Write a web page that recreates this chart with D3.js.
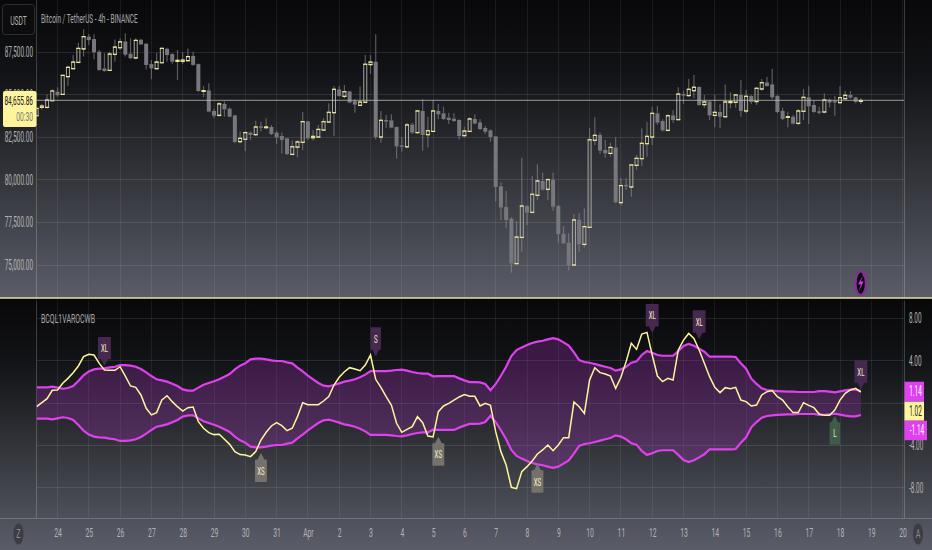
<!DOCTYPE html>
<html><head><meta charset="utf-8">
<style>html,body{margin:0;padding:0;background:#000}svg{display:block}text{font-family:Roboto,"Liberation Sans",sans-serif}</style>
<script src="https://cdn.jsdelivr.net/npm/d3@7/dist/d3.min.js"></script></head><body><svg id="c" width="932" height="550"></svg>
<script>
const title = "Bitcoin / TetherUS - 4h - BINANCE";
const paneTitle = "BCQL1VAROCWB";
const priceTicks = [75000, 77500, 80000, 82500, 85000, 87500];
const oscTicks = [-8, -4, 4, 8];
const oscGrid = [-8, -4, 0, 4, 8];
const dayLabels = ["24","25","26","27","28","29","30","31","Apr","2","3","4","5","6","7","8","9","10","11","12","13","14","15","16","17","18","19","20"];
const lastPrice = 84655.86;
const opens = [83760,84250,84250,84640,85170,85010,86050,86520,86890,87680,88400,88260,87520,86540,86420,87360,87750,88120,87400,87150,88220,87990,86790,86520,86870,87690,87380,86950,86950,86990,87270,86790,85190,85250,84040,83780,84450,84170,83780,82240,82380,82770,82650,83140,83060,83100,82770,82570,82430,81490,81920,82200,83430,82470,82510,82920,83390,83940,85310,84900,85190,84620,84370,84550,86760,86930,82510,83510,83490,83100,82020,81940,83240,82770,84040,82650,82840,84040,83900,83650,83590,83510,82590,82840,83570,83370,83040,82900,82550,79620,78400,77720,75080,76620,78460,78090,79090,79930,79440,80010,78460,76840,76310,75000,77660,76210,77210,82320,82630,81750,81550,81900,78660,79700,79580,80850,81240,82120,82510,83900,83450,82900,83780,83530,85030,84940,85230,85450,84410,84600,83780,83980,83700,84530,84550,84980,84040,84920,84590,85330,85720,85600,84920,84040,83670,83700,83310,84020,84840,84390,84020,83980,84700,84620,84530,84760,84980,84840,84600];
const highs = [84200,84450,85010,85310,85430,86170,86700,87320,88050,88830,88560,88540,87620,87420,87520,88240,88300,88600,88300,88300,88280,88010,87030,87460,87770,87750,87420,87620,87480,87710,87520,86830,85500,85660,84190,84570,84590,84250,83820,82830,82830,82830,83470,83410,83610,83220,82880,82770,82470,82300,82340,83980,83470,82920,83220,83610,84490,85500,85500,85560,85230,84720,85470,87320,87320,88540,84040,83800,83840,83120,82490,83350,83350,84100,84720,83700,84680,84450,84290,83940,83900,83550,83120,83670,83840,83550,83160,82960,82570,79850,79340,77800,77580,81300,78500,80220,80910,80420,80090,80420,78500,77290,76860,77990,78030,78320,83020,83650,82770,82340,82180,82490,80090,80090,80910,81460,83020,83410,84290,84330,83550,83840,84100,85430,85230,85910,86150,85470,84980,84640,84980,84430,85600,85130,85030,85860,85270,84980,85430,85910,86050,86520,84980,84230,83990,83800,84160,85330,85500,84680,84290,85070,84780,84920,85500,85210,85210,84880,84800];
const lows = [83760,84130,84190,84590,84880,84980,85520,86480,86830,87230,87910,87070,86400,86350,86380,86930,87620,87230,87070,87070,87890,86480,85900,86480,86830,86930,86790,85860,86790,86930,86700,85170,84840,83960,83610,83700,83700,83670,82140,82140,81690,82340,82570,82830,82960,82630,82100,81550,81450,81420,81320,81750,82340,82300,82470,82880,83350,82570,84880,84780,84490,83940,84330,84490,86210,82370,82180,83060,83020,81240,81650,81850,82690,82670,81710,81890,82790,83550,83510,83270,83390,82370,82530,82790,83240,82920,82690,82240,78720,77640,77150,74550,75040,75780,77350,78030,78810,79360,78810,78190,76310,76230,74670,74960,75780,76020,77170,82040,81510,81300,81360,78620,78480,79400,79010,80580,80810,81360,82040,83220,82820,82840,83350,83490,84450,84880,84780,84350,84230,83510,83080,83020,83670,84190,84230,83700,83900,84430,84390,85230,85470,84720,83900,83510,83080,83250,83180,83510,83270,83940,83840,83900,84250,83760,84450,84720,84760,84490,84450];
const closes = [84190,84330,84680,85210,84960,86130,86600,86910,87710,88400,88200,87480,86440,86380,87380,87790,88100,87340,87130,88180,87950,86740,86540,86910,87710,87320,86930,87010,87030,87230,86740,85210,85230,84000,83760,84450,84130,83700,82220,82430,82770,82630,83100,83080,83100,82690,82490,82340,81510,81940,82220,83410,82430,82550,82960,83410,83960,85310,84920,85170,84530,84410,84560,86780,86910,82510,83490,83450,83060,81960,81940,83220,82770,84040,82630,82880,84040,83840,83570,83510,83450,82570,82860,83570,83300,82980,82820,82510,79580,78370,77640,75080,76640,78460,78070,79150,79930,79420,80010,78420,76820,76270,74980,77640,76210,77250,82350,82610,81710,81550,81900,78680,79660,79620,80870,81260,82140,82550,83900,83350,82900,83760,83510,85030,84990,85310,85430,84390,84570,83780,83960,83700,84570,84590,84980,84040,84900,84570,85370,85700,85500,84840,83980,83570,83700,83290,84040,84840,84310,83980,83980,84680,84530,84550,84820,84960,84820,84570,84655.86];
const bandUpper = [1.48,1.48,1.48,1.54,1.45,1.35,1.42,1.61,2.08,2.62,2.99,3.18,3.25,3.28,3.37,3.43,3.59,3.59,3.53,3.43,3.21,2.90,2.55,2.24,2.14,2.02,1.83,1.61,1.29,1.17,1.17,1.45,1.73,1.89,2.05,2.24,2.49,2.74,3.18,3.53,3.75,4.13,4.19,4.19,4.13,4.03,3.97,3.97,3.84,3.75,3.34,2.99,2.58,2.24,1.89,1.64,1.58,1.70,1.86,2.02,2.11,2.24,2.43,2.68,3.02,3.02,3.02,3.02,3.06,3.12,3.15,3.06,2.93,2.84,2.77,2.77,2.52,2.55,2.55,2.55,2.55,2.33,2.14,1.98,1.98,1.95,1.80,1.20,1.80,2.58,3.43,4.44,5.01,5.26,5.48,5.67,5.80,5.89,6.02,6.14,6.02,5.73,5.42,4.79,4.06,3.88,3.81,3.69,3.56,3.43,3.31,3.06,3.18,3.43,3.81,3.94,4.54,4.91,4.76,4.54,4.47,4.47,4.47,4.91,5.39,5.58,5.42,5.14,4.85,4.38,4.38,4.38,4.38,4.38,4.35,3.75,3.25,2.30,1.80,1.39,1.23,1.17,1.13,1.10,1.07,1.07,1.04,1.04,1.04,1.04,1.13,1.13,1.07,1.01,1.10,1.20,1.26,1.26,1.14];
const bandLower = [-1.48,-1.48,-1.48,-1.54,-1.45,-1.35,-1.42,-1.61,-2.08,-2.62,-2.99,-3.18,-3.25,-3.28,-3.37,-3.43,-3.59,-3.59,-3.53,-3.43,-3.21,-2.90,-2.55,-2.24,-2.14,-2.02,-1.83,-1.61,-1.29,-1.17,-1.17,-1.45,-1.73,-1.89,-2.05,-2.24,-2.49,-2.74,-3.18,-3.53,-3.75,-4.13,-4.19,-4.19,-4.13,-4.03,-3.97,-3.97,-3.84,-3.75,-3.34,-2.99,-2.58,-2.24,-1.89,-1.64,-1.58,-1.70,-1.86,-2.02,-2.11,-2.24,-2.43,-2.68,-3.02,-3.02,-3.02,-3.02,-3.06,-3.12,-3.15,-3.06,-2.93,-2.84,-2.77,-2.77,-2.52,-2.55,-2.55,-2.55,-2.55,-2.33,-2.14,-1.98,-1.98,-1.95,-1.80,-1.20,-1.80,-2.58,-3.43,-4.44,-5.01,-5.26,-5.48,-5.67,-5.80,-5.89,-6.02,-6.14,-6.02,-5.73,-5.42,-4.79,-4.06,-3.88,-3.81,-3.69,-3.56,-3.43,-3.31,-3.06,-3.18,-3.43,-3.81,-3.94,-4.54,-4.91,-4.76,-4.54,-4.47,-4.47,-4.47,-4.91,-5.39,-5.58,-5.42,-5.14,-4.85,-4.38,-4.38,-4.38,-4.38,-4.38,-4.35,-3.75,-3.25,-2.30,-1.80,-1.39,-1.23,-1.17,-1.13,-1.10,-1.07,-1.07,-1.04,-1.04,-1.04,-1.04,-1.13,-1.13,-1.07,-1.01,-1.10,-1.20,-1.26,-1.26,-1.14];
const osc = [-0.35,0.03,0.41,1.20,1.23,1.86,2.33,2.87,3.50,4.38,4.60,4.54,3.75,3.12,3.09,3.09,3.43,2.55,1.61,1.48,0.76,-0.50,-1.13,-0.91,0.28,0.69,0.13,-0.35,-0.76,-0.44,-0.38,-1.76,-2.39,-2.80,-2.99,-2.96,-3.43,-3.91,-4.60,-4.88,-4.91,-5.07,-4.60,-3.50,-2.77,-2.17,-1.86,-2.14,-2.62,-2.39,-1.29,0.03,-0.16,-0.16,-0.16,0.19,0.60,1.70,2.43,2.96,3.34,3.21,3.06,3.59,4.54,2.24,1.48,0.60,-0.19,-1.92,-2.77,-2.49,-2.24,-1.29,-1.86,-3.12,-3.21,-0.82,-0.28,-0.03,0.28,0.57,0.79,0.63,0.63,-0.28,-0.03,-0.22,-2.71,-4.60,-5.86,-7.97,-8.10,-6.49,-6.02,-5.48,-4.82,-4.44,-3.97,-4.51,-3.97,-3.28,-3.28,0.09,-0.35,-0.98,2.17,3.34,2.87,2.74,2.55,1.39,2.43,3.91,5.64,5.07,6.52,6.68,4.54,2.55,2.02,2.33,2.17,5.01,5.95,6.58,6.11,5.01,3.75,2.49,1.48,0.98,1.45,1.35,1.48,0.28,0.13,-0.28,-0.19,0.76,1.07,1.17,0.60,0.28,-0.35,-0.91,-0.91,0.03,-0.22,-0.44,-1.04,-1.17,-1.17,-0.66,0.28,0.91,1.23,1.39,1.02];
const markerBars = [13, 43, 65, 77, 96, 118, 127, 158, 153];
const markerLabels = ["XL","XS","S","XS","XS","XL","XL","XL","L"];
const markerValues = [3.53,-4.75,4.44,-3.21,-5.77,6.64,6.05,1.32,-1.23];

const svg = d3.select("#c");
const W = 932, H = 550, L = 36.5, R = 904, SEP = 298, BOT = 518;
const MS = 3600e3, DAY = 24*MS;
const t0 = Date.UTC(2025,2,24);
const barTime = i => new Date(t0 + (i-4)*4*MS);
const x = d3.scaleUtc().domain([new Date(t0-DAY), new Date(t0+28*DAY)]).range([26.2, 26.2+29*31.3]);
const yP = d3.scaleLinear().domain([82500,87500]).range([137.2,52]);
const yO = d3.scaleLinear().domain([-8,8]).range([487.6,318.4]);

const defs = svg.append("defs");
function grad(id, y1, y2, stops){
  const g = defs.append("linearGradient").attr("id",id).attr("gradientUnits","userSpaceOnUse").attr("x1",0).attr("x2",0).attr("y1",y1).attr("y2",y2);
  stops.forEach(s=>g.append("stop").attr("offset",s[0]).attr("stop-color",s[1]));
}
const st = [[0,"#08080a"],[.25,"#121316"],[.5,"#2a2b30"],[.75,"#42444c"],[1,"#5a5c68"]];
grad("bgTop",0,SEP,st); grad("bgBot",SEP,H,st);
defs.append("clipPath").attr("id","pane").append("rect").attr("x",L).attr("y",0).attr("width",R-L).attr("height",BOT);

svg.append("rect").attr("width",W).attr("height",SEP).attr("fill","url(#bgTop)");
svg.append("rect").attr("y",SEP).attr("width",W).attr("height",H-SEP).attr("fill","url(#bgBot)");

// squeeze text horizontally around its own x: the reference type is very narrow
function squeeze(sel,k){
  sel.each(function(){
    const px = parseFloat(this.getAttribute("x"))||0;
    this.setAttribute("transform",`translate(${px},0) scale(${k},1) translate(${-px},0)`);
  });
  return sel;
}

const days = d3.range(dayLabels.length).map(i=>new Date(t0+i*DAY));
const grid = svg.append("g").attr("stroke","#fff").attr("stroke-opacity",.07).attr("shape-rendering","crispEdges");
grid.selectAll("line.v").data(days).join("line").attr("class","v").attr("x1",d=>x(d)).attr("x2",d=>x(d)).attr("y1",0).attr("y2",BOT);
grid.selectAll("line.hp").data(priceTicks).join("line").attr("class","hp").attr("x1",L).attr("x2",R).attr("y1",d=>yP(d)).attr("y2",d=>yP(d)).attr("stroke-opacity",.1);
grid.selectAll("line.ho").data(oscGrid).join("line").attr("class","ho").attr("x1",L).attr("x2",R).attr("y1",d=>yO(d)).attr("y2",d=>yO(d)).attr("stroke-opacity",.1);

const frame = svg.append("g").attr("stroke","#fff").attr("stroke-opacity",.2).attr("shape-rendering","crispEdges");
frame.append("line").attr("x1",L).attr("x2",L).attr("y1",0).attr("y2",BOT);
frame.append("line").attr("x1",R).attr("x2",R).attr("y1",0).attr("y2",BOT);
frame.append("line").attr("x1",0).attr("x2",W).attr("y1",BOT+.5).attr("y2",BOT+.5);

// candles
const bars = d3.range(opens.length).map(i=>({i,o:opens[i],h:highs[i],l:lows[i],c:closes[i],t:barTime(i)}));
const cg = svg.append("g").attr("clip-path","url(#pane)");
const BW = 4;
const wick = "rgba(150,150,156,.55)";
cg.selectAll("line.hi").data(bars).join("line").attr("class","hi").attr("stroke",wick).attr("stroke-width",1.2)
  .attr("x1",d=>x(d.t)).attr("x2",d=>x(d.t)).attr("y1",d=>yP(d.h)).attr("y2",d=>yP(Math.max(d.o,d.c)));
cg.selectAll("line.lo").data(bars).join("line").attr("class","lo").attr("stroke",wick).attr("stroke-width",1.2)
  .attr("x1",d=>x(d.t)).attr("x2",d=>x(d.t)).attr("y1",d=>yP(Math.min(d.o,d.c))).attr("y2",d=>yP(d.l));
const down = bars.filter(d=>d.c<d.o), up = bars.filter(d=>d.c>=d.o);
cg.selectAll("rect.dn").data(down).join("rect").attr("class","dn").attr("fill","#77777d")
  .attr("x",d=>x(d.t)-BW/2).attr("width",BW).attr("y",d=>yP(d.o)).attr("height",d=>Math.max(1.5,yP(d.c)-yP(d.o)));
cg.selectAll("rect.up").data(up).join("rect").attr("class","up").attr("fill","none").attr("stroke","#a8a79e").attr("stroke-width",1)
  .attr("x",d=>x(d.t)-BW/2+.5).attr("width",BW-1).attr("y",d=>yP(d.c)).attr("height",d=>Math.max(.5,yP(d.o)-yP(d.c)));
cg.selectAll("line.ut").data(up).join("line").attr("class","ut").attr("stroke","#f3e78e").attr("stroke-width",1.2)
  .attr("x1",d=>x(d.t)-BW/2).attr("x2",d=>x(d.t)+BW/2).attr("y1",d=>yP(d.c)).attr("y2",d=>yP(d.c));
cg.selectAll("line.ub").data(up).join("line").attr("class","ub").attr("stroke","#f3e78e").attr("stroke-width",1.2)
  .attr("x1",d=>x(d.t)-BW/2).attr("x2",d=>x(d.t)+BW/2).attr("y1",d=>yP(d.o)).attr("y2",d=>yP(d.o));

// last price line
svg.append("line").attr("x1",L).attr("x2",R).attr("y1",yP(lastPrice)).attr("y2",yP(lastPrice))
  .attr("stroke","#c0c0b4").attr("stroke-opacity",.62).attr("stroke-width",1.2);

// indicator
const oc = svg.append("g").attr("clip-path","url(#pane)");
const area = d3.area().x(d=>x(d.t)).y0(d=>yO(bandLower[d.i])).y1(d=>yO(bandUpper[d.i]));
oc.append("path").attr("d",area(bars)).attr("fill","#9a30b4").attr("fill-opacity",.3);
const lineOf = arr => d3.line().x(d=>x(d.t)).y(d=>yO(arr[d.i]))(bars);
oc.append("path").attr("d",lineOf(bandUpper)).attr("fill","none").attr("stroke","#e040f0").attr("stroke-width",2.2);
oc.append("path").attr("d",lineOf(bandLower)).attr("fill","none").attr("stroke","#e040f0").attr("stroke-width",2.2);
oc.append("path").attr("d",lineOf(osc)).attr("fill","none").attr("stroke","#fff59d").attr("stroke-width",1.5);

// markers
const styleFor = {XL:{f:"#47294f",w:11.5},S:{f:"#47294f",w:9},XS:{f:"#75726c",w:10.5},L:{f:"#3f5c49",w:9}};
markerBars.forEach((b,k)=>{
  const lab = markerLabels[k], s = styleFor[lab], px = x(barTime(b)), py = yO(markerValues[k]);
  const dir = (lab==="XS"||lab==="L") ? 1 : -1; // +1: tag below point, -1: above
  const a = 7, bodyH = 21, hw = s.w/2;
  const p = d3.path();
  p.moveTo(px,py+dir); p.lineTo(px+3,py+dir*a); p.lineTo(px+hw,py+dir*a);
  p.lineTo(px+hw,py+dir*(a+bodyH)); p.lineTo(px-hw,py+dir*(a+bodyH)); p.lineTo(px-hw,py+dir*a); p.lineTo(px-3,py+dir*a); p.closePath();
  svg.append("path").attr("d",p.toString()).attr("fill",s.f).attr("stroke",s.f).attr("stroke-width",1.4).attr("stroke-linejoin","round");
  const t = svg.append("text").attr("x",px).attr("y",py+dir*(a+bodyH/2)+4).attr("text-anchor","middle").attr("font-size",11).attr("fill","#f5f0c4").text(lab);
  squeeze(t,.55);
});

// axes
const axL = svg.append("g").attr("transform",`translate(${L},0)`).call(d3.axisLeft(yP).tickValues(priceTicks).tickFormat(d3.format(",.2f")).tickSize(0).tickPadding(3.5));
axL.select(".domain").remove();
axL.selectAll("text").attr("font-size",14).attr("fill","#b4b4b4").style("font-family","Roboto");
squeeze(axL.selectAll("text"),.46);
const axR = svg.append("g").attr("transform",`translate(${R},0)`).call(d3.axisRight(yO).tickValues(oscTicks).tickFormat(d=>d.toFixed(2)).tickSize(0).tickPadding(5));
axR.select(".domain").remove();
axR.selectAll("text").attr("font-size",14).attr("fill","#b4b4b4").style("font-family","Roboto");
squeeze(axR.selectAll("text"),.46);
const axB = svg.append("g").attr("transform",`translate(0,${BOT})`).call(d3.axisBottom(x).tickValues(days).tickFormat((d,i)=>dayLabels[i]).tickSize(0).tickPadding(9));
axB.select(".domain").remove();
axB.selectAll("text").attr("font-size",13.5).attr("fill","#b4b4b4").style("font-family","Roboto");
axB.selectAll(".tick").each(function(){ const t=d3.select(this).select("text"); t.attr("x",0); });
squeeze(axB.selectAll("text"),.5);

// titles
squeeze(svg.append("text").attr("x",41).attr("y",23).attr("font-size",13).attr("fill","#a8a8a8").text(title),.5);
squeeze(svg.append("text").attr("x",41).attr("y",323).attr("font-size",12).attr("fill","#a8a8a8").text(paneTitle),.58);

// USDT button
svg.append("rect").attr("x",2.5).attr("y",4.5).attr("width",32).attr("height",30).attr("rx",3).attr("fill","#0c0c0e").attr("stroke","#2e2e32");
squeeze(svg.append("text").attr("x",18.5).attr("y",25).attr("text-anchor","middle").attr("font-size",13.5).attr("fill","#b0b0b0").text("USDT"),.5);

// price tag
svg.append("rect").attr("x",3).attr("y",91).attr("width",33.5).attr("height",36).attr("rx",2).attr("fill","#fff59d");
squeeze(svg.append("text").attr("x",33).attr("y",105.5).attr("text-anchor","end").attr("font-size",13).attr("fill","#222").text(d3.format(",.2f")(lastPrice)),.5);
squeeze(svg.append("text").attr("x",33).attr("y",121).attr("text-anchor","end").attr("font-size",12.5).attr("fill","#777").text("00:30"),.54);

// right value tags
const tagVals = [bandUpper[158], osc[158], bandLower[158]];
const tagBoxes = [{y:381.7,h:20,w:19.5,f:"#e040f0",t:"#fff"},{y:401.7,h:19,w:19.5,f:"#fff59d",t:"#222"},{y:420.7,h:19.5,w:22.5,f:"#e040f0",t:"#fff"}];
tagVals.forEach((v,k)=>{
  const b = tagBoxes[k];
  svg.append("rect").attr("x",R+.5).attr("y",b.y).attr("width",b.w).attr("height",b.h).attr("fill",b.f);
  squeeze(svg.append("text").attr("x",R+(k==2?13:11.5)).attr("y",b.y+b.h/2+4.5).attr("text-anchor","middle").attr("font-size",14).attr("fill",b.t).text(v.toFixed(2)),.46);
});

// corner buttons
[[18.5,"Z"],[918,"A"]].forEach(d=>{
  svg.append("ellipse").attr("cx",d[0]).attr("cy",534).attr("rx",5).attr("ry",10.5).attr("fill","#3c3d44");
  squeeze(svg.append("text").attr("x",d[0]).attr("y",538.5).attr("text-anchor","middle").attr("font-size",12).attr("fill","#8a8a8e").text(d[1]),.6);
});

// lightning badge
const bx = 860.7, by = 283.3;
svg.append("ellipse").attr("cx",bx).attr("cy",by).attr("rx",5.2).attr("ry",11.8).attr("fill","#0b0b10").attr("stroke","#8a2c9e").attr("stroke-width",2.2);
const bolt = d3.path(); bolt.moveTo(bx+2.4,by-8); bolt.lineTo(bx-2.6,by+1); bolt.lineTo(bx+.2,by+1); bolt.lineTo(bx-2,by+8.5); bolt.lineTo(bx+2.8,by-1.8); bolt.lineTo(bx,by-1.8); bolt.closePath();
svg.append("path").attr("d",bolt.toString()).attr("fill","#d23be6");
svg.append("circle").attr("cx",bx+3.8).attr("cy",by-8.6).attr("r",2).attr("fill","#8a2c9e");

// pane separator
svg.append("line").attr("x1",0).attr("x2",W).attr("y1",SEP).attr("y2",SEP).attr("stroke","#e6e0a8").attr("stroke-width",1.5);
svg.append("rect").attr("x",0).attr("y",299).attr("width",W).attr("height",1.5).attr("fill","#08080a");
</script></body></html>
